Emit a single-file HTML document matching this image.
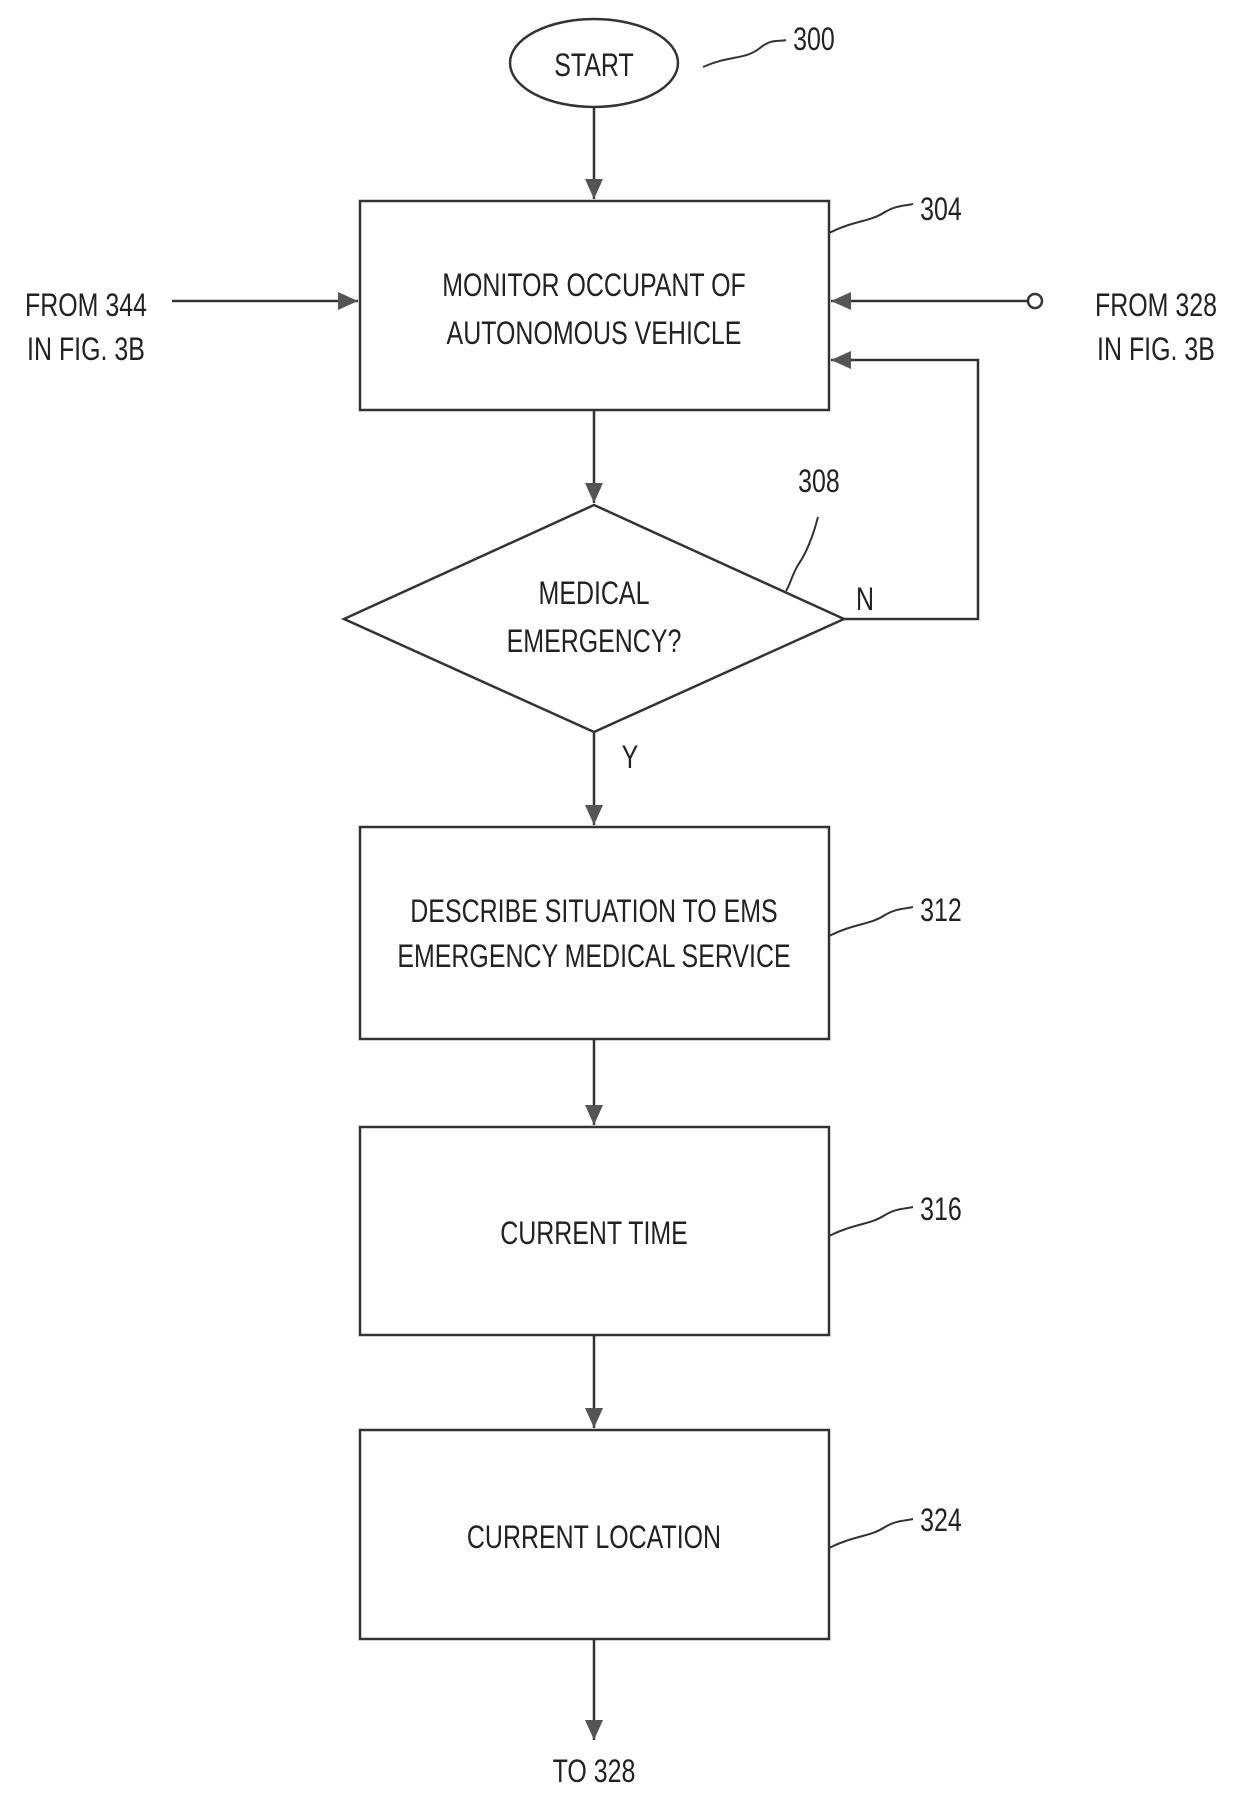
<!DOCTYPE html>
<html><head><style>
html,body{margin:0;padding:0;background:#fff}
svg text{font-family:"Liberation Sans",sans-serif;fill:#222;font-size:32px}
</style></head><body>
<svg width="1240" height="1796" viewBox="0 0 1240 1796" xmlns="http://www.w3.org/2000/svg">
<defs>
<marker id="a" markerWidth="12" markerHeight="12" refX="10" refY="6" orient="auto" markerUnits="userSpaceOnUse">
<path d="M0,0 L12,6 L0,12 Z" fill="#444"/></marker>
<marker id="b" markerWidth="22" markerHeight="18" refX="20" refY="9" orient="auto" markerUnits="userSpaceOnUse">
<path d="M0,0 L20,9 L0,18 Z" fill="#555"/></marker>
</defs>
<g stroke="#333" stroke-width="2.5" fill="none">
<ellipse cx="594" cy="63" rx="84" ry="44"/>
<rect x="360" y="201" width="469" height="209"/>
<polygon points="594,505 844,619 594,732 344,619"/>
<rect x="360" y="827" width="469" height="212"/>
<rect x="360" y="1127" width="469" height="208"/>
<rect x="360" y="1430" width="469" height="209"/>
<circle cx="1035" cy="301" r="7"/>
<line x1="594" y1="107" x2="594" y2="199" marker-end="url(#b)"/>
<line x1="594" y1="410" x2="594" y2="503" marker-end="url(#b)"/>
<line x1="594" y1="732" x2="594" y2="825" marker-end="url(#b)"/>
<line x1="594" y1="1039" x2="594" y2="1125" marker-end="url(#b)"/>
<line x1="594" y1="1335" x2="594" y2="1428" marker-end="url(#b)"/>
<line x1="594" y1="1639" x2="594" y2="1740" marker-end="url(#b)"/>
<line x1="172" y1="301" x2="358" y2="301" marker-end="url(#b)"/>
<line x1="1028" y1="301" x2="831" y2="301" marker-end="url(#b)"/>
<polyline points="844,619 978,619 978,360 831,360" marker-end="url(#b)"/>
<path d="M703,67 C730,55 745,60 760,48 C772,38 780,42 786,40" stroke-width="2"/>
<path d="M829,233 C855,220 870,222 885,212 C897,205 905,206 913,204" stroke-width="2"/>
<path d="M829,936 C855,923 870,925 885,915 C897,908 905,909 913,907" stroke-width="2"/>
<path d="M829,1236 C855,1223 870,1225 885,1215 C897,1208 905,1209 913,1207" stroke-width="2"/>
<path d="M829,1548 C855,1535 870,1537 885,1527 C897,1520 905,1521 913,1519" stroke-width="2"/>
<path d="M818,517 C812,540 805,555 798,565 C792,575 790,585 786,591" stroke-width="2"/>
</g>
<g text-anchor="middle">
<text x="594" y="76" transform="translate(594 0) scale(0.78 1) translate(-594 0)">START</text>
<text x="594" y="296" transform="translate(594 0) scale(0.78 1) translate(-594 0)">MONITOR OCCUPANT OF</text>
<text x="594" y="344" transform="translate(594 0) scale(0.78 1) translate(-594 0)">AUTONOMOUS VEHICLE</text>
<text x="594" y="604" transform="translate(594 0) scale(0.78 1) translate(-594 0)">MEDICAL</text>
<text x="594" y="652" transform="translate(594 0) scale(0.78 1) translate(-594 0)">EMERGENCY?</text>
<text x="594" y="922" transform="translate(594 0) scale(0.78 1) translate(-594 0)">DESCRIBE SITUATION TO EMS</text>
<text x="594" y="967" transform="translate(594 0) scale(0.78 1) translate(-594 0)">EMERGENCY MEDICAL SERVICE</text>
<text x="594" y="1244" transform="translate(594 0) scale(0.78 1) translate(-594 0)">CURRENT TIME</text>
<text x="594" y="1548" transform="translate(594 0) scale(0.78 1) translate(-594 0)">CURRENT LOCATION</text>
<text x="594" y="1782" transform="translate(594 0) scale(0.78 1) translate(-594 0)">TO 328</text>
<text x="86" y="316" transform="translate(86 0) scale(0.78 1) translate(-86 0)">FROM 344</text>
<text x="86" y="360" transform="translate(86 0) scale(0.78 1) translate(-86 0)">IN FIG. 3B</text>
<text x="1156" y="316" transform="translate(1156 0) scale(0.78 1) translate(-1156 0)">FROM 328</text>
<text x="1156" y="360" transform="translate(1156 0) scale(0.78 1) translate(-1156 0)">IN FIG. 3B</text>
<text x="814" y="50" transform="translate(814 0) scale(0.78 1) translate(-814 0)">300</text>
<text x="941" y="220" transform="translate(941 0) scale(0.78 1) translate(-941 0)">304</text>
<text x="819" y="492" transform="translate(819 0) scale(0.78 1) translate(-819 0)">308</text>
<text x="941" y="921" transform="translate(941 0) scale(0.78 1) translate(-941 0)">312</text>
<text x="941" y="1220" transform="translate(941 0) scale(0.78 1) translate(-941 0)">316</text>
<text x="941" y="1531" transform="translate(941 0) scale(0.78 1) translate(-941 0)">324</text>
<text x="865" y="610" transform="translate(865 0) scale(0.78 1) translate(-865 0)">N</text>
<text x="630" y="768" transform="translate(630 0) scale(0.78 1) translate(-630 0)">Y</text>
</g>
</svg>
</body></html>
